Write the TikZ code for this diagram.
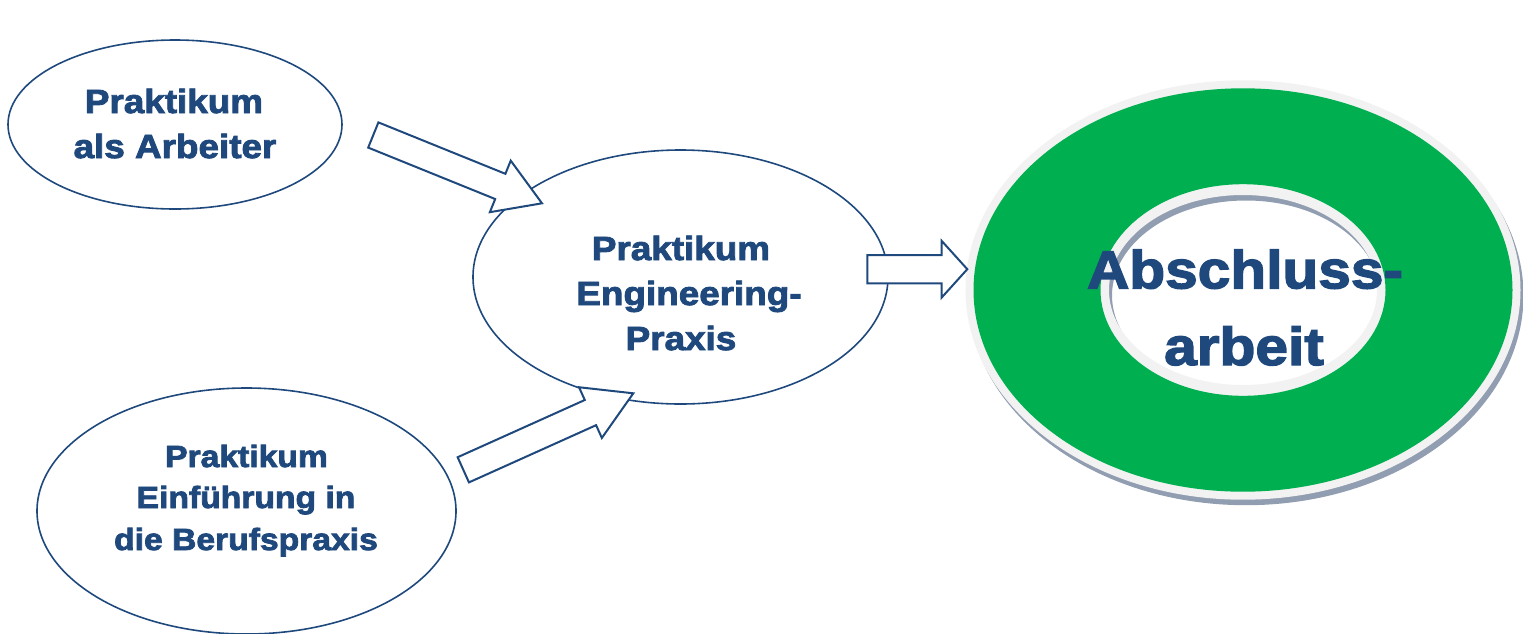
\documentclass[tikz,border=0pt]{standalone}
\usepackage{fontspec}
\usetikzlibrary{shapes.geometric,calc}
\newfontfamily\heavy[FakeBold=2.6,FakeStretch=1.1]{Liberation Sans Bold}
\definecolor{navy}{RGB}{31,73,125}
\definecolor{ringgreen}{RGB}{0,176,80}
\definecolor{ringlight}{RGB}{242,242,242}
\definecolor{ringshade}{RGB}{145,157,176}

\tikzset{
  bubble/.style={ellipse, draw=navy, line width=1.6pt, inner sep=0pt},
  lbl/.style={anchor=base, inner sep=0pt, text=navy,
    font=\heavy\fontsize{33.5}{40}\selectfont},
  lblsmall/.style={lbl, font=\heavy\fontsize{30.6}{36}\selectfont},
  lblbig/.style={lbl, font=\heavy\fontsize{53.3}{64}\selectfont},
  barrow/.style={draw=navy, fill=white, line width=2pt, line join=miter},
}

% block arrow from #1 to #2: half shaft width #3, half head width #4, head length #5
\newcommand\blockarrow[5]{%
  \coordinate (#1-#2-h) at ($(#2)!#5!(#1)$);
  \draw[barrow]
    ($(#1)!#3!90:(#2)$) -- ($(#1-#2-h)!#3!-90:(#1)$) --
    ($(#1-#2-h)!#4!-90:(#1)$) -- (#2) --
    ($(#1-#2-h)!#4!90:(#1)$) -- ($(#1-#2-h)!#3!90:(#1)$) --
    ($(#1)!#3!-90:(#2)$) -- cycle;}

\begin{document}
\begin{tikzpicture}[x=1pt,y=-1pt]
\useasboundingbox (0,0) rectangle (1523,633);
\clip (0,0) rectangle (1523,633);

% the three internships
\node[bubble, minimum width=334pt, minimum height=169pt] (arb) at (175,124.5) {};
\node[bubble, minimum width=415pt, minimum height=254pt] (eng) at (680.5,277) {};
\node[bubble, minimum width=419pt, minimum height=246pt] (ein) at (246.5,511) {};

\node[lbl] (arb1) at (174,113) {Praktikum};
\node[lbl] (arb2) at (175,158) {als Arbeiter};

\node[lbl] (eng1) at (681,260) {Praktikum};
\node[lbl] (eng2) at (689,305) {Engineering-};
\node[lbl] (eng3) at (681,350) {Praxis};

\node[lblsmall] (ein1) at (246.5,467) {Praktikum};
\node[lblsmall] (ein2) at (246,508) {Einführung in};
\node[lblsmall] (ein3) at (246,550) {die Berufspraxis};

% final thesis ring: shadow, light rim, green band
\coordinate (thesis) at (1243,290);
\fill[ringshade, even odd rule]
  ($(thesis)+(3,5.5)$) ellipse [x radius=277.5pt, y radius=209.7pt]
  ($(thesis)+(3,5.5)$) ellipse [x radius=134pt, y radius=95pt];
\fill[ringlight, even odd rule]
  (thesis) ellipse [x radius=277.5pt, y radius=209.7pt]
  (thesis) ellipse [x radius=134pt, y radius=95pt];
\fill[ringgreen, even odd rule]
  (thesis) ellipse [x radius=269.5pt, y radius=201.7pt]
  (thesis) ellipse [x radius=142.5pt, y radius=105.8pt];

\node[lblbig] (abs1) at (1245,288.3) {Abschluss-};
\node[lblbig] (abs2) at (1244,365) {arbeit};

% block arrows
\coordinate (a1) at (373.3,135);
\coordinate (b1) at (542,203.3);
\coordinate (a2) at (463.3,469.8);
\coordinate (b2) at (633.3,393.3);
\coordinate (a3) at (867.3,269.2);
\coordinate (b3) at (967.3,269.2);
\blockarrow{a1}{b1}{13.6pt}{27.8pt}{45pt}
\blockarrow{a2}{b2}{13.8pt}{27.8pt}{47pt}
\blockarrow{a3}{b3}{14.2pt}{28.3pt}{25.6pt}
\end{tikzpicture}
\end{document}
